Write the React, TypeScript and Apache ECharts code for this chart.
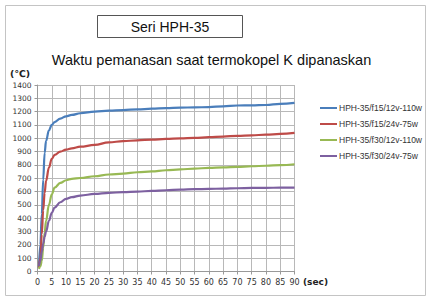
import React, { useEffect, useRef } from "react";
import * as echarts from "echarts";

const times = [0.5, 1, 1.5, 2, 2.5, 3, 4, 5, 6, 8, 10, 12, 15, 20, 25, 30, 35, 40, 45, 50, 55, 60, 65, 70, 75, 80, 85, 90];
const blue = [30, 200, 430, 690, 890, 980, 1060, 1100, 1122, 1148, 1165, 1175, 1188, 1200, 1207, 1212, 1217, 1222, 1226, 1230, 1232, 1234, 1240, 1246, 1247, 1250, 1258, 1266];
const red = [30, 100, 280, 460, 590, 680, 780, 845, 875, 900, 915, 925, 937, 950, 970, 978, 985, 990, 995, 1000, 1003, 1008, 1013, 1018, 1022, 1027, 1033, 1040];
const green = [20, 40, 80, 180, 290, 380, 500, 580, 630, 665, 685, 695, 702, 715, 728, 735, 745, 752, 760, 767, 772, 778, 782, 786, 790, 794, 798, 805];
const purple = [40, 80, 150, 210, 260, 300, 380, 440, 480, 520, 545, 558, 570, 582, 590, 596, 600, 605, 610, 615, 618, 620, 622, 625, 627, 628, 629, 630];

const seriesNames = ["HPH-35/f15/12v-110w", "HPH-35/f15/24v-75w", "HPH-35/f30/12v-110w", "HPH-35/f30/24v-75w"];
const seriesColors = ["#4a7ebb", "#be4b48", "#98b954", "#7d60a0"];
const seriesValues = [blue, red, green, purple];

const boxTitle = "Seri HPH-35";
const mainTitle = "Waktu pemanasan saat termokopel K dipanaskan";
const yUnit = "(℃)";
const xUnit = "(sec)";

export default function App() {
  const ref = useRef<HTMLDivElement>(null);
  useEffect(() => {
    if (!ref.current) return;
    const chart = echarts.init(ref.current, null, { renderer: "svg" });
    chart.setOption({
      animation: false,
      backgroundColor: "#ffffff",
      grid: { left: 37.5, top: 85, width: 257, height: 186.5, containLabel: false },
      legend: {
        orient: "vertical",
        left: 315,
        top: 98,
        itemWidth: 17,
        itemHeight: 2,
        itemGap: 6,
        icon: "rect",
        textStyle: { fontSize: 8.5, lineHeight: 10, color: "#333", fontFamily: "Liberation Sans", padding: [0, 0, 0, -3] },
        data: seriesNames,
      },
      xAxis: {
        type: "value",
        min: 0,
        max: 90,
        interval: 5,
        axisLine: { show: true, lineStyle: { color: "#999", width: 1 } },
        axisTick: { show: true, length: 3, lineStyle: { color: "#999" } },
        splitLine: { show: true, lineStyle: { color: "#b8b8b8", width: 1 } },
        axisLabel: { fontSize: 8, color: "#333", fontFamily: "DejaVu Sans", margin: 7 },
      },
      yAxis: {
        type: "value",
        min: 0,
        max: 1400,
        interval: 100,
        axisLine: { show: true, lineStyle: { color: "#999", width: 1 } },
        axisTick: { show: true, length: 3, lineStyle: { color: "#999" } },
        splitLine: { show: true, lineStyle: { color: "#b8b8b8", width: 1 } },
        axisLabel: { fontSize: 7.5, color: "#333", fontFamily: "DejaVu Sans", margin: 6, formatter: (v: number) => String(v) },
      },
      series: seriesNames.map((name, i) => ({
        name,
        type: "line",
        data: times.map((t, j) => [t, seriesValues[i][j]]),
        smooth: 0.4,
        smoothMonotone: "x",
        showSymbol: false,
        symbol: "none",
        lineStyle: { width: 2.2, color: seriesColors[i] },
        itemStyle: { color: seriesColors[i] },
      })),
      graphic: [
        { type: "rect", shape: { x: 5.5, y: 5.5, width: 420, height: 290 }, style: { fill: "none", stroke: "#c4c4c4", lineWidth: 1 } },
        { type: "rect", shape: { x: 97.5, y: 15.5, width: 145, height: 22 }, style: { fill: "#fff", stroke: "#555", lineWidth: 1 } },
        { type: "text", x: 170, y: 26.5, style: { text: boxTitle, fontSize: 14, fontFamily: "Liberation Sans", fill: "#111", align: "center", verticalAlign: "middle" } },
        { type: "text", x: 211.5, y: 60, style: { text: mainTitle, fontSize: 14.5, fontFamily: "Liberation Sans", fill: "#111", align: "center", verticalAlign: "middle" } },
        { type: "text", x: 10, y: 73, style: { text: yUnit, fontSize: 9.5, fontWeight: "bold", fontFamily: "DejaVu Sans", fill: "#222", align: "left", verticalAlign: "middle" } },
        { type: "text", x: 303, y: 281.5, style: { text: xUnit, fontSize: 9, fontWeight: "bold", fontFamily: "DejaVu Sans", fill: "#222", align: "left", verticalAlign: "middle" } },
      ],
    });
    return () => chart.dispose();
  }, []);
  return <div ref={ref} style={{ position: "fixed", left: 0, top: 0, width: 432, height: 301 }} />;
}
